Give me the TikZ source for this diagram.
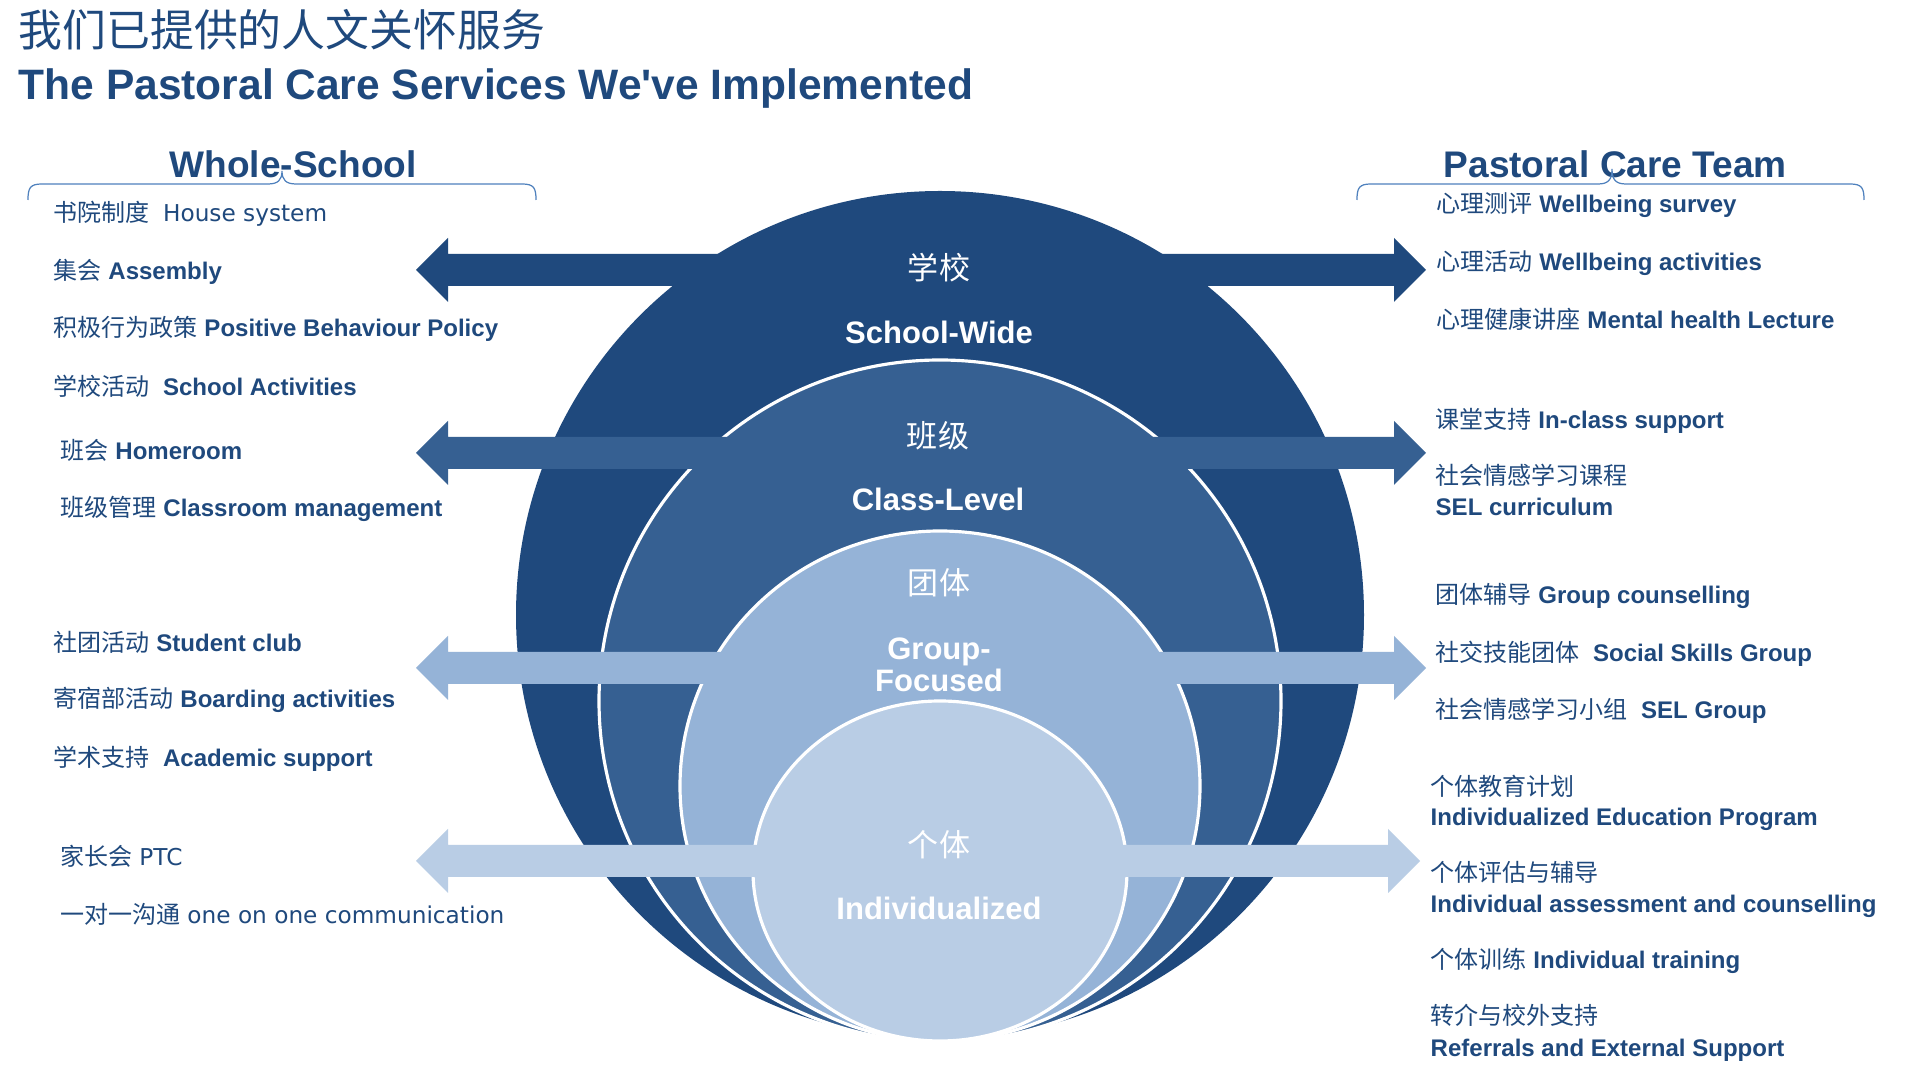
\documentclass[tikz,border=0pt]{standalone}
\usepackage{fontspec}
\setmainfont{Liberation Sans}[Ligatures=TeXOff]
\newfontfamily\zhfont{Noto Sans CJK SC}
\newfontfamily\dvfont{DejaVu Sans}
\newcommand\zh[1]{{\zhfont\mdseries #1}}
\newcommand\rg[1]{{\dvfont\mdseries\fontsize{6.6pt}{8pt}\selectfont #1}}
\definecolor{schoolblue}{HTML}{1F497D}
\definecolor{classblue}{HTML}{366092}
\definecolor{groupblue}{HTML}{95B3D7}
\definecolor{indivblue}{HTML}{B9CDE5}
\definecolor{braceblue}{HTML}{4F81BD}
\definecolor{textblue}{HTML}{1F497D}
\tikzset{
  item/.style={anchor=base west, inner sep=0pt, text=textblue,
    font=\fontsize{6.83pt}{8pt}\selectfont\bfseries},
  heading/.style={anchor=base west, inner sep=0pt, text=textblue,
    font=\fontsize{10.53pt}{12pt}\selectfont\bfseries},
  ringlabel/.style={anchor=base, inner sep=0pt, text=white,
    font=\fontsize{8.82pt}{10pt}\selectfont\bfseries},
  ring/.style={draw=white, line width=0.9pt},
  bracket/.style={draw=braceblue, line width=0.35pt}
}
\begin{document}
\begin{tikzpicture}[x=0.01cm, y=-0.01cm]
  \useasboundingbox[fill=white] (0,0) rectangle (1920,1080);
  \node[anchor=base west, inner sep=0pt, text=textblue, font=\fontsize{12.47pt}{14pt}\selectfont]
    (titlezh) at (18,47) {\zh{我们已提供的人文关怀服务}};
  \node[anchor=base west, inner sep=0pt, text=textblue, font=\fontsize{12.09pt}{14pt}\selectfont\bfseries]
    (titleen) at (18,100) {The Pastoral Care Services We've Implemented};
  \node[heading] (whole) at (169,178) {Whole-School};
  \node[heading] (team) at (1443,178) {Pastoral Care Team};
  \draw[bracket] (28,200) .. controls (28,188) and (30,184) .. (42,184) -- (268,184)
    .. controls (278,184) and (282,180) .. (282,171) .. controls (282,180) and (286,184) .. (296,184)
    -- (522,184) .. controls (534,184) and (536,188) .. (536,200);
  \draw[bracket] (1357,200) .. controls (1357,188) and (1359,184) .. (1371,184) -- (1598,184)
    .. controls (1608,184) and (1612,180) .. (1612,169) .. controls (1612,180) and (1616,184) .. (1626,184)
    -- (1850,184) .. controls (1862,184) and (1864,188) .. (1864,200);
  \fill[schoolblue] (940,615) circle (424);
  \filldraw[ring, fill=classblue] (940,701) circle (341);
  \filldraw[ring, fill=groupblue] (940,786) circle [x radius=260, y radius=255];
  \filldraw[ring, fill=indivblue] (940,871) circle [x radius=187, y radius=170];
  \fill[schoolblue] (416,270) -- (448,238) -- (448,254) -- (1394,254) -- (1394,238) -- (1426,270)
    -- (1394,302) -- (1394,286) -- (448,286) -- (448,302) -- cycle;
  \fill[classblue] (416,453) -- (448,421) -- (448,437) -- (1394,437) -- (1394,421) -- (1426,453)
    -- (1394,485) -- (1394,469) -- (448,469) -- (448,485) -- cycle;
  \fill[groupblue] (416,668) -- (448,636) -- (448,652) -- (1394,652) -- (1394,636) -- (1426,668)
    -- (1394,700) -- (1394,684) -- (448,684) -- (448,700) -- cycle;
  \fill[indivblue] (416,861) -- (448,829) -- (448,845) -- (1388,845) -- (1388,829) -- (1420,861)
    -- (1388,893) -- (1388,877) -- (448,877) -- (448,893) -- cycle;
  \node[ringlabel] (school) at (939,280) {\zh{学校}};
  \node[ringlabel] (schoolen) at (939,344) {School-Wide};
  \node[ringlabel] (class) at (938,448) {\zh{班级}};
  \node[ringlabel] (classen) at (938,511) {Class-Level};
  \node[ringlabel] (group) at (939,595) {\zh{团体}};
  \node[ringlabel] (groupen) at (939,660) {Group-};
  \node[ringlabel] (groupen2) at (939,692) {Focused};
  \node[ringlabel] (indiv) at (939,857) {\zh{个体}};
  \node[ringlabel] (indiven) at (939,920) {Individualized};
  \node[item] (l1) at (53,222) {\zh{书院制度}\ \ \rg{House system}};
  \node[item] (l2) at (53,280) {\zh{集会} Assembly};
  \node[item] (l3) at (53,337) {\zh{积极行为政策} Positive Behaviour Policy};
  \node[item] (l4) at (53,396) {\zh{学校活动}\ \ School Activities};
  \node[item] (l5) at (60,460) {\zh{班会} Homeroom};
  \node[item] (l6) at (60,517) {\zh{班级管理} Classroom management};
  \node[item] (l7) at (53,652) {\zh{社团活动} Student club};
  \node[item] (l8) at (53,708) {\zh{寄宿部活动} Boarding activities};
  \node[item] (l9) at (53,767) {\zh{学术支持}\ \ Academic support};
  \node[item] (l10) at (60,866) {\zh{家长会} \rg{PTC}};
  \node[item] (l11) at (60,924) {\zh{一对一沟通} \rg{one on one communication}};
  \node[item] (r1) at (1436,213) {\zh{心理测评} Wellbeing survey};
  \node[item] (r2) at (1436,271) {\zh{心理活动} Wellbeing activities};
  \node[item] (r3) at (1436,329) {\zh{心理健康讲座} Mental health Lecture};
  \node[item] (r4) at (1435,429) {\zh{课堂支持} In-class support};
  \node[item] (r5) at (1435,485) {\zh{社会情感学习课程}};
  \node[item] (r5en) at (1435,516) {SEL curriculum};
  \node[item] (r6) at (1435,604) {\zh{团体辅导} Group counselling};
  \node[item] (r7) at (1435,662) {\zh{社交技能团体}\ \ Social Skills Group};
  \node[item] (r8) at (1435,719) {\zh{社会情感学习小组}\ \ SEL Group};
  \node[item] (r9) at (1430,796) {\zh{个体教育计划}};
  \node[item] (r9en) at (1430,826) {Individualized Education Program};
  \node[item] (r10) at (1430,882) {\zh{个体评估与辅导}};
  \node[item] (r10en) at (1430,913) {Individual assessment and counselling};
  \node[item] (r11) at (1430,969) {\zh{个体训练} Individual training};
  \node[item] (r12) at (1430,1025) {\zh{转介与校外支持}};
  \node[item] (r12en) at (1430,1057) {Referrals and External Support};
\end{tikzpicture}
\end{document}
